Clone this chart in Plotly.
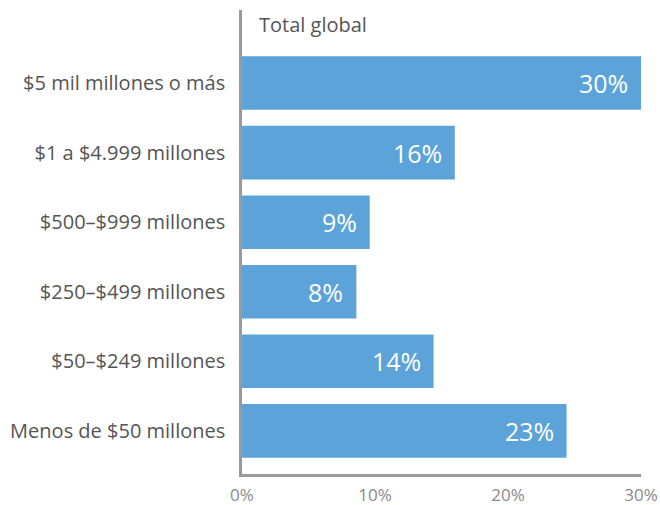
import plotly.graph_objects as go

categories = ["Menos de $50 millones", "$50–$249 millones", "$250–$499 millones",
              "$500–$999 millones", "$1 a $4.999 millones", "$5 mil millones o más"]
values = [24.4, 14.4, 8.6, 9.6, 16.0, 30.0]
labels = ["23%", "14%", "8%", "9%", "16%", "30%"]
tick_vals = [0, 10, 20, 30]
tick_text = ["0%", "10%", "20%", "30%"]
title_text = "Total global"

FONT = "Open Sans"
BAR = "#5BA3D9"
AX = "#9a9a9a"

fig = go.Figure()
fig.add_trace(go.Bar(
    y=categories, x=values, orientation="h",
    marker=dict(color=BAR, line=dict(width=0)),
    hoverinfo="skip",
))

for c, v, t in zip(categories, values, labels):
    fig.add_annotation(x=v, y=c, text=t, showarrow=False, xanchor="right",
                       xshift=-11, font=dict(family=FONT, size=25, color="white"))

fig.add_annotation(x=0, y=1, xref="paper", yref="paper", text=title_text,
                   showarrow=False, xanchor="left", yanchor="middle",
                   xshift=15, yshift=-14, font=dict(family=FONT, size=20, color="#555555"))

fig.update_layout(
    width=660, height=505,
    margin=dict(l=242, r=19, t=10, b=31, autoexpand=False),
    paper_bgcolor="white", plot_bgcolor="white",
    bargap=0.23, showlegend=False,
    font=dict(family=FONT, size=20, color="#555555"),
)
fig.update_xaxes(range=[0, 30], tickvals=tick_vals, ticktext=tick_text,
                 showgrid=False, zeroline=False, showline=True, linecolor=AX,
                 linewidth=2.5, ticks="", tickfont=dict(family=FONT, size=17, color="#8a8a8a"),
                 ticklabelstandoff=4, fixedrange=True, automargin=False)
fig.update_yaxes(range=[-0.62, 6.05], showgrid=False, zeroline=False, showline=True,
                 linecolor=AX, linewidth=2.5, ticks="", ticklabelstandoff=10,
                 tickfont=dict(family=FONT, size=20, color="#555555"), fixedrange=True,
                 automargin=False)

fig.write_html("out.html")
